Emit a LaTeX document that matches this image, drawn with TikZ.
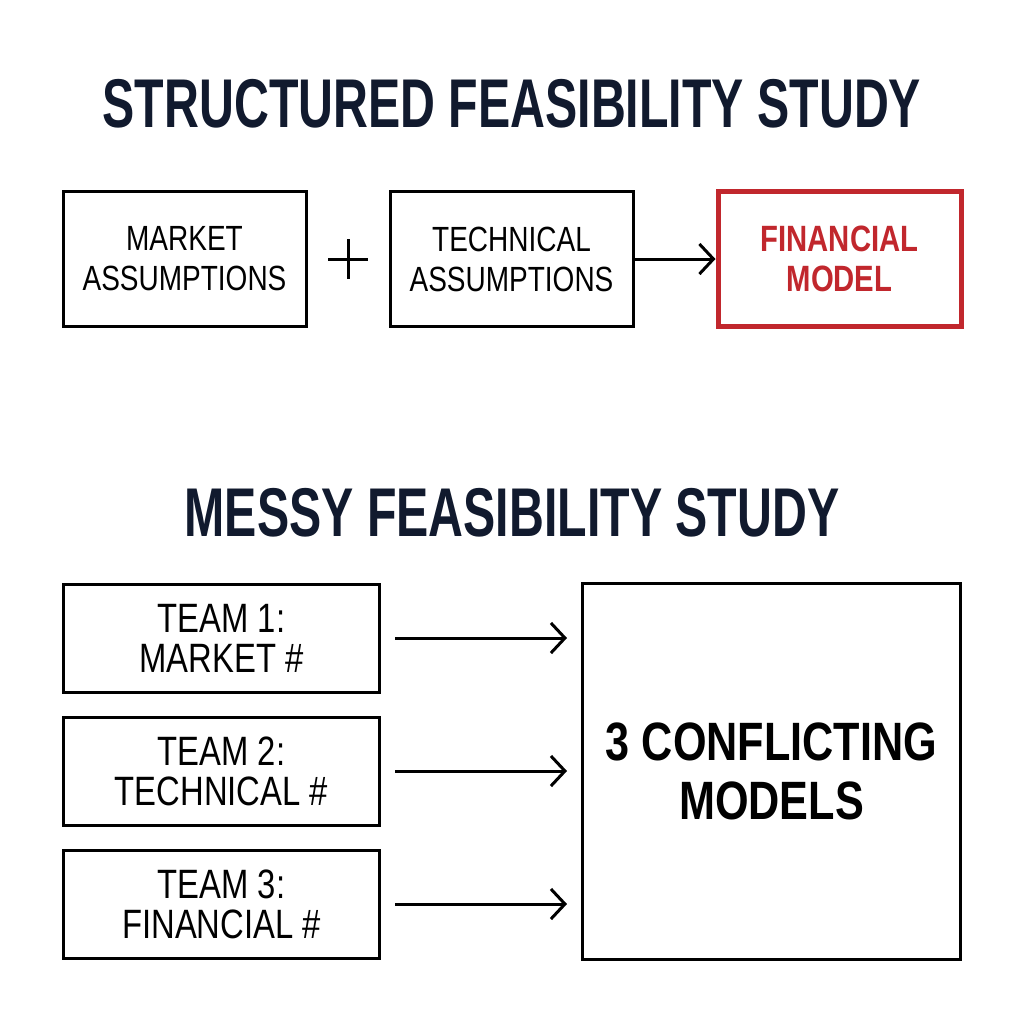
\documentclass[tikz,border=0pt]{standalone}
\usepackage{fontspec}
\setmainfont{Liberation Sans}
\newfontfamily\narrowfont{Liberation Sans}[FakeStretch=0.8]
\newfontfamily\titlefont{Liberation Sans}[FakeStretch=0.7]
\usepackage{xcolor}
\definecolor{Ink}{HTML}{111A2E}
\definecolor{Crimson}{HTML}{C1272D}
\usetikzlibrary{arrows.meta,positioning,calc}

\begin{document}
\begin{tikzpicture}[x=0.5pt,y=-0.5pt,
  every node/.style={align=center,inner sep=0pt},
  box/.style={draw=black,line width=1.5pt,minimum width=121.5pt,minimum height=67.5pt,font=\narrowfont\fontsize{17.5}{20}\selectfont},
  teambox/.style={draw=black,line width=1.5pt,minimum width=158pt,minimum height=54pt,font=\narrowfont\fontsize{20.5}{20}\selectfont},
  heading/.style={text=Ink,font=\titlefont\bfseries\fontsize{34.5}{36}\selectfont},
  link/.style={-{Straight Barb[length=7pt,width=15pt]},line width=1.5pt}]
\useasboundingbox[fill=white] (0,0) rectangle (1024,1024);

% structured study
\node[heading] (top) at (512,104) {STRUCTURED FEASIBILITY STUDY};
\node[box] (market) at (184.5,259) {MARKET\\ASSUMPTIONS};
\node[box,right=40.5pt of market] (tech) {TECHNICAL\\ASSUMPTIONS};
\node[box,draw=Crimson,line width=2.5pt,text=Crimson,font=\narrowfont\bfseries\fontsize{18.3}{20}\selectfont,right=40.5pt of tech] (fin) {FINANCIAL\\MODEL};
\coordinate (plus) at ($(market.east)!0.5!(tech.west)$);
\draw[line width=1.5pt] (plus) +(-20,0) -- +(20,0) (plus) +(0,-20) -- +(0,20);
\draw[link] (tech) -- (fin);

% messy study
\node[heading] (bottom) at (512,513) {MESSY FEASIBILITY STUDY};
\node[teambox] (team1) at (221.5,638) {TEAM 1:\\MARKET \#};
\node[teambox,below=11pt of team1] (team2) {TEAM 2:\\TECHNICAL \#};
\node[teambox,below=11pt of team2] (team3) {TEAM 3:\\FINANCIAL \#};
\node[draw=black,line width=1.5pt,minimum width=189pt,minimum height=188pt,text depth=-6pt,font=\narrowfont\bfseries\fontsize{27}{29.5}\selectfont] (models) at (771.5,771.5) {3 CONFLICTING\\MODELS};
\foreach \t in {team1,team2,team3}
  \draw[link,shorten <=7pt,shorten >=7pt] (\t.east) -- (\t.east -| models.west);
\end{tikzpicture}
\end{document}
